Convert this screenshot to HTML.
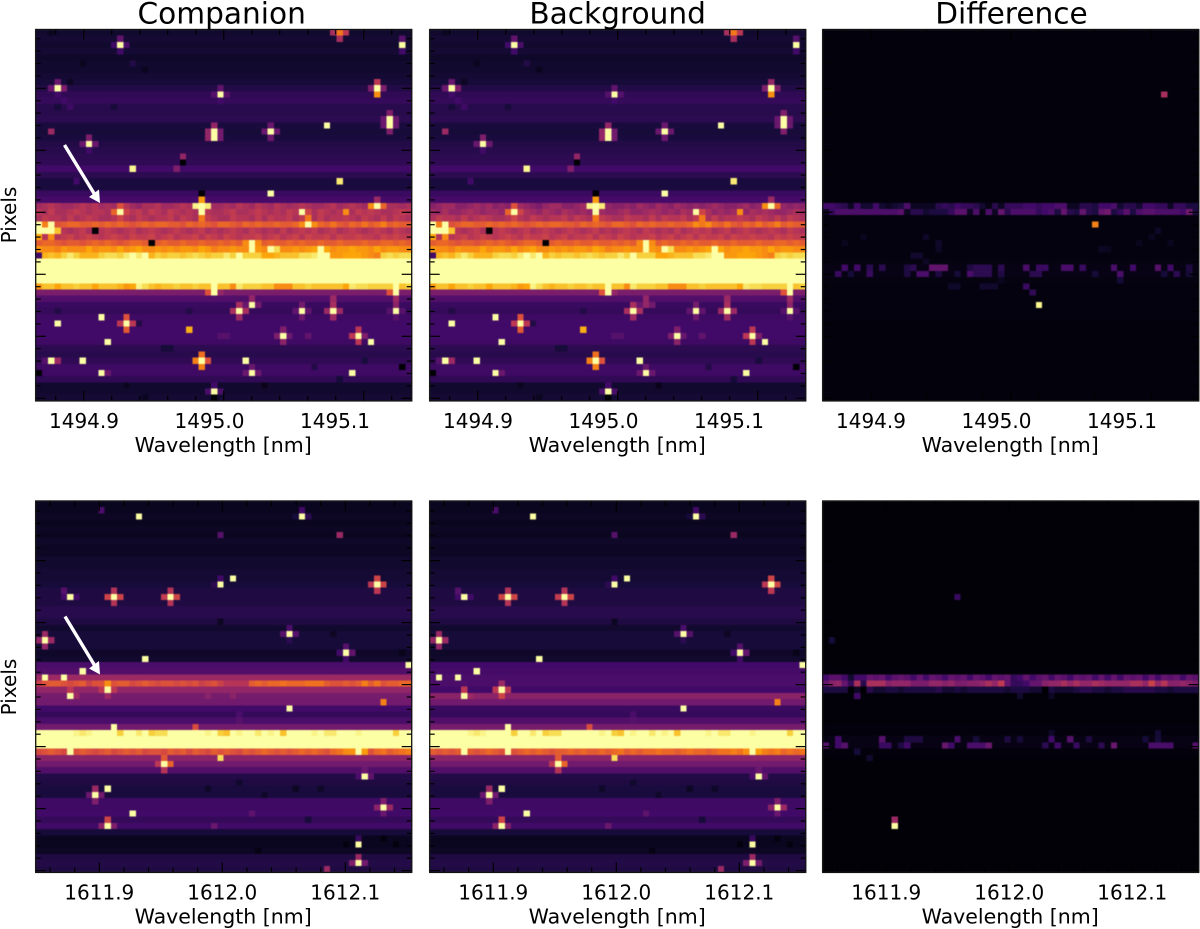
<!DOCTYPE html>
<html lang="en">
<head>
<meta charset="utf-8">
<title>Spectral detector frames</title>
<style>
html,body{margin:0;padding:0;background:#fff;}
svg{display:block;font-family:"DejaVu Sans","Liberation Sans",sans-serif;fill:#000;}
.cells{filter:blur(0.45px);}
</style>
</head>
<body>
<svg id="figure" xmlns="http://www.w3.org/2000/svg" width="1200" height="929" viewBox="0 0 1200 929">
  <rect x="0" y="0" width="1200" height="929" fill="#ffffff"/>
  <g id="panels"></g>
  <text x="221.7" y="23.5" font-size="29.6" text-anchor="middle">Companion</text>
  <text x="617.6" y="23.5" font-size="29.6" text-anchor="middle">Background</text>
  <text x="1011.5" y="23.5" font-size="29.6" text-anchor="middle">Difference</text>
  <text font-size="20" text-anchor="middle" transform="translate(16 215) rotate(-90)">Pixels</text>
  <text font-size="20" text-anchor="middle" transform="translate(16 687) rotate(-90)">Pixels</text>
  <g>
    <line x1="64.5" y1="145" x2="95" y2="195" stroke="#fff" stroke-width="3.4"/>
    <polygon points="100,203 89,197 99,189.5" fill="#fff"/>
  </g>
  <g>
    <line x1="65" y1="616.5" x2="95" y2="666" stroke="#fff" stroke-width="3.4"/>
    <polygon points="100,674.5 89,668.5 99,661" fill="#fff"/>
  </g>
</svg>
<script>
/* ---------- data: row levels (0-1 of the colour scale), per-cell band strings (base-36, 0-z), bright/dark pixels [col,row,value] ---------- */
const companionTopRows = [.08,.09,.08,.09,.07,.08,.08,.09,.1,.13,.16,.17,.14,.14,.15,.11,.1,.11,.13,.14,.15,.16,.2,.15,.11,.11,.18,.21,.44,.47,.46,.63,.47,.5,.62,.78,.9,1,1,1,1,.86,.34,.24,.18,.17,.19,.2,.2,.2,.19,.15,.14,.16,.19,.19,.16,.08,.08,.09];
const backgroundTopRows = [.08,.09,.08,.09,.07,.08,.08,.09,.1,.13,.16,.17,.14,.14,.15,.11,.1,.11,.13,.14,.15,.16,.2,.15,.11,.11,.18,.21,.4,.43,.46,.63,.47,.5,.62,.78,.9,1,1,1,1,.86,.34,.24,.18,.17,.19,.2,.2,.2,.19,.15,.14,.16,.19,.19,.16,.08,.08,.09];
const differenceTopRows = [.015,.015,.015,.015,.015,.015,.015,.015,.015,.015,.015,.015,.015,.015,.015,.015,.015,.015,.015,.015,.015,.015,.015,.015,.015,.015,.015,.015,.15,.2,.02,.02,.02,.02,.02,.02,.02,.025,.03,.03,.025,.02,.02,.02,.02,.02,.02,.015,.015,.015,.015,.015,.015,.015,.015,.015,.015,.015,.015,.015];

const companionBottomRows = [.05,.05,.06,.05,.06,.05,.07,.06,.06,.08,.08,.09,.09,.1,.12,.12,.12,.14,.14,.12,.08,.1,.1,.1,.07,.08,.22,.24,.42,.65,.4,.33,.32,.2,.17,.22,.32,1,1,1,.58,.38,.32,.24,.13,.12,.11,.11,.19,.19,.2,.17,.2,.1,.05,.05,.06,.12,.13,.12];
const backgroundBottomRows = [.05,.05,.06,.05,.06,.05,.07,.06,.06,.08,.08,.09,.09,.1,.12,.12,.12,.14,.14,.12,.08,.1,.1,.1,.07,.08,.2,.21,.22,.22,.2,.38,.32,.18,.17,.24,.33,1,1,1,.6,.38,.32,.24,.13,.12,.11,.11,.19,.19,.2,.17,.2,.1,.05,.05,.06,.12,.13,.12];
const differenceBottomRows = [.008,.008,.008,.008,.008,.008,.008,.008,.008,.008,.008,.008,.008,.008,.008,.008,.008,.008,.008,.008,.008,.008,.008,.008,.008,.008,.008,.01,.2,.38,.1,.01,.01,.01,.01,.01,.015,.015,.03,.03,.015,.01,.008,.008,.008,.008,.008,.008,.008,.008,.008,.008,.008,.008,.008,.008,.008,.008,.008,.008];

const companionTopBands = {
  28:"fghgffghghfgfghfegghffghgfhgffgfhgfhgfhgfghgffghfghgfgfhggfg",
  29:"hgigghihghhgighhigihgihghgihgghigghihghgihghgihghhgihihgghih",
  30:"gihhgighihgghihgihghhigihggihggihhgigihhigihgighhihgihgigihg",
  31:"zpzlmnnmmnmnmnmlmnmnnmmlnmnmlnnmlnmnmmnmmnqzqnmomlnmomnpmnmm",
  32:"zzzuhghighhihghighihghihghighghihgihghgighihighighihghihgihg",
  33:"shqhijhijihijihjiijhijhiijhjihjihiijhijhijhjiijhjiijiihjijii",
  34:"mnnmlmmlmnmnmlmnnmlmnmmnmmnmmnmnmqzqmnmmnmnmmnmmnmmmnmmnnmnm",
  35:"rqqprqqqsqrrqsqrsqqrqrqrrqsrpqqrqqzrqzwqqrqrszsqrrsrrqsqrrqq",
  36:"7tutvxvtttvwwvxzxztvuvvuvwvuvvxvzvvvsstuuuwwxzzrrsssrqpvwvww",
  41:"ruusuuvuusuuutrsywutuuvuuvuuzuuqxvvvuuqqquuvuuuuusxwwvvvvzuv"
};
const backgroundTopBands = {
  ...companionTopBands,
  28:"deffddefefdedefedceffddefedfeddedfedfedfededefeddefdefedededfd",
  29:"fegeefgfeffegefgfegfegfefegfeefgeefgfefegfefgefeffegfgfeefgf"
};
const differenceTopBands = {
  28:"776527337323482222565766531526667767788225547783553776626644",
  29:"26888888888892553444699281 82a588886784a54a54ab469489988887b4".replace(" ","")
};

const companionBottomBands = {
  29:"jlmmlklmjllplmmklmlkllklkljkljhhhhmnmnnonnnooomllmlmpmolmmnn",
  37:"zzzzzzyxyzzzzvzzxzvwwzzzzzzyzvuzyzzxzyzuzzzzyzxxzzzyzzzzzvzz",
  40:"klmlkmlmlklmklmlmkllkmlmkmlkmlmlkmlmnmlmlmnmnmlnoqlqmlnomnop"
};
const backgroundBottomBands = {
  37:"zzzzzzyxyzzzzvzzxzvwwzzzzzzyzvuzyzzxzyzuzzzzyzxxzzzyzzzzzvzz",
  40:"mlmlmlmlmnmlzlmnmnmlmmnmnmmnmnomnmnnonnmnonnmnoopoqzqpopnono"
};
const differenceBottomBands = {
  28:"7997377a9a79a97a7a97a9a7a97a9a67a79a7a97a9a7a7a7a9a7a7a9a7a9",
  29:"adea6g5gggdeeeccceedeccddegeia667aadeegegeegfeeeeggejehddedc",
  30:"444403053344344444533434444443444330433345544344555554434444"
};

const companionTopSpots = [
  [7,5,.05],[2,0,.05],[17,6,.05],[5,8,.06],[3,12,.1],[12,12,.1],[15,5,.13],[8,17,.18],[6,24,.2],[4,11,.2],[5,12,.19],
  [3,45,.13],[24,45,.13],[16,47,.13],[20,51,.1],[21,51,.1],[17,59,.05],[14,57,.05],[36,57,.04],[48,56,.1],[52,53,.11],[44,54,.13],[43,49,.28],[29,49,.25],[30,49,.25],
  [13,2,1],[12,2,.2],[14,2,.22],[13,1,.28],[13,3,.2],
  [3,9,1],[4,9,.35],[2,9,.3],[3,8,.3],[3,10,.2],
  [29,10,1],[29,9,.28],[29,11,.2],[28,10,.25],[30,10,.25],
  [48,0,.7],[48,1,.45],[47,0,.45],[49,0,.5],
  [58,2,1],[58,1,.25],[58,3,.2],
  [54,9,1],[54,8,.5],[54,10,.75],[53,9,.35],[55,9,.35],
  [2,16,.42],
  [8,18,1],[7,18,.3],[9,18,.3],[8,17,.35],[8,19,.2],
  [15,22,.98],
  [28,16,1],[28,17,1],[27,16,.4],[27,17,.4],[29,16,.32],[29,17,.32],[28,15,.4],
  [37,16,1],[36,16,.3],[38,16,.3],[37,15,.3],[37,17,.3],
  [46,15,1],
  [56,13,.35],[56,14,1],[56,15,1],[56,16,.35],[55,14,.3],[57,14,.3],[55,15,.3],[57,15,.3],
  [23,21,0],[23,20,.4],[22,22,.35],
  [48,24,.95],[37,26,1],
  [26,26,0],[26,27,.78],[26,28,1],[25,28,.97],[27,28,.95],[26,29,1],[26,30,.7],
  [13,29,1],[12,29,.65],[14,29,.55],[13,28,.6],[13,30,.55],
  [9,32,0],[18,34,0],
  [42,29,1],[43,29,.55],[43,30,.7],
  [49,29,.75],
  [54,28,1],[53,28,.75],[55,28,.65],[54,27,.42],
  [28,42,1],[27,42,.6],[29,42,.4],[57,42,1],[56,42,.6],[57,43,.42],
  [34,44,1],[34,43,.4],[33,44,.3],[35,44,.32],
  [32,45,1],[31,45,.45],[33,45,.45],[32,44,.45],[32,46,.42],
  [42,45,1],[42,44,.33],[42,46,.3],[41,45,.28],[43,45,.28],
  [47,45,1],[46,45,.42],[48,45,.42],[47,44,.45],[47,46,.42],[47,43,.42],
  [57,45,1],[57,44,.38],[56,45,.25],[58,45,.25],[57,46,.25],
  [39,49,1],[38,49,.35],[40,49,.3],[39,48,.35],[39,50,.38],
  [51,49,1],[50,49,.5],[52,49,.35],[51,48,.5],[51,50,.5],
  [53,50,1],[33,53,1],[34,54,.3],[34,55,1],[33,55,.3],[35,55,.3],[50,55,1],
  [28,58,1],[27,58,.22],[29,58,.22],[28,57,.2],[28,59,0],
  [26,53,1],[25,53,.72],[27,53,.6],[26,52,.68],[26,54,.72],
  [3,47,1],[14,47,1],[13,47,.5],[15,47,.5],[14,46,.6],[14,48,.62],
  [10,46,1],[24,48,.82],[11,50,1],
  [2,53,1],[3,53,.42],[1,53,.25],[7,53,1],[10,55,1],[11,55,.3],
  [0,55,0],[58,54,0]
];
const backgroundTopSpots = [...companionTopSpots, [34,44,.4],[54,8,.4],[43,31,.7]];
const differenceTopSpots = [
  [54,10,.45],[43,31,.72],[34,44,.98],
  [3,38,.2],[5,38,.2],[7,38,.15],[9,38,.15],[13,38,.12],[14,38,.15],[17,38,.28],[18,38,.28],[19,38,.28],[23,38,.12],[24,38,.15],[25,38,.15],[26,38,.15],[28,38,.15],[32,38,.22],[34,38,.18],[35,38,.18],[38,38,.22],[39,38,.22],[41,38,.18],[46,38,.22],[49,38,.2],[53,38,.25],[55,38,.2],[58,38,.12],
  [2,39,.18],[4,39,.1],[7,39,.18],[13,39,.12],[15,39,.22],[16,39,.22],[18,39,.12],[21,39,.1],[23,39,.22],[24,39,.15],[25,39,.15],[26,39,.15],[28,39,.12],[33,39,.15],[34,39,.15],[43,39,.1],[47,39,.22],[54,39,.1],[56,39,.15],[58,39,.1],
  [18,34,.07],[18,35,.06],[14,36,.08],[15,36,.08],[16,37,.06],[28,40,.05],[32,41,.18],[33,42,.16],[25,41,.08],[26,41,.08],[27,41,.08],[20,41,.07],[21,41,.07],[47,40,.1],[53,32,.07],[52,33,.05],[50,34,.05],[6,33,.05],[3,34,.05],[16,33,.07],[45,35,.05],[44,35,.06],[55,34,.05]
];

const companionBottomSpots = [
  [27,46,.07],[41,46,.06],[45,46,.07],[43,51,.1],[36,47,.07],[32,45,.08],[55,54,.02],[49,55,.02],[57,55,.02],[35,56,.03],[29,19,.06],[47,21,.06],[58,24,.04],
  [34,50,.27],[28,52,.3],[31,31,.38],[27,31,.38],[32,34,.22],[32,35,.25],
  [16,2,1],[10,1,.22],[5,15,1],[4,14,.25],[4,15,.2],[6,15,.2],
  [12,15,1],[11,15,.55],[13,15,.55],[12,14,.48],[12,16,.48],
  [21,15,1],[22,15,.55],[20,15,.52],[21,14,.48],[21,16,.48],
  [29,5,.25],[42,2,1],[42,1,.2],[43,2,.15],[41,2,.1],[48,5,.42],
  [31,12,1],[29,13,1],[28,13,.15],[29,12,.2],
  [54,13,1],[53,13,.5],[55,13,.55],[54,12,.55],[54,14,.5],
  [1,22,1],[1,21,.42],[1,23,.4],[2,22,.42],[0,22,.4],
  [17,25,1],[7,27,1],[1,28,1],[4,28,1],
  [11,29,.75],[11,30,1],[10,30,.5],[12,30,.5],[11,31,.42],
  [5,30,.5],[5,31,1],[6,31,.42],[5,40,1],
  [12,36,1],[25,36,.58],
  [20,41,.62],[20,42,1],[19,42,.5],[21,42,.65],[20,43,.48],[29,41,.92],
  [11,46,1],[9,47,1],[9,46,.42],[9,48,.35],[8,47,.3],[10,47,.32],
  [15,50,1],[11,52,1],[11,51,.55],[10,52,.38],[12,52,.35],
  [40,21,1],[39,21,.25],[41,21,.25],[40,20,.22],[40,22,.15],
  [49,24,1],[48,24,.2],[50,24,.28],[49,23,.25],[49,25,.2],
  [59,26,1],[40,33,1],[55,32,.72],
  [52,44,1],[51,44,.22],[53,44,.28],[52,43,.3],
  [55,49,1],[54,49,.38],[56,49,.42],[55,48,.35],[55,50,.3],
  [51,55,1],[51,54,.18],[51,58,1],[51,57,.42],[50,58,.35],[52,58,.32],[46,59,.42],
  [51,40,1],[50,40,.75],[52,40,.78]
];
const backgroundBottomSpots = [...companionBottomSpots, [11,29,.42],[11,31,.55],[5,29,.24],[28,38,1]];
const differenceBottomSpots = [
  [11,52,1],[11,51,.42],[21,15,.18],[1,22,.1],[5,31,.2],[5,30,.06],[31,31,.08],[36,31,.06],
  [2,38,.2],[9,38,.25],[13,38,.12],[14,38,.12],[15,38,.12],[21,38,.22],[24,38,.1],[29,38,.12],[31,38,.1],[36,38,.2],[39,38,.25],[42,38,.12],[51,38,.1],[53,38,.1],
  [0,39,.25],[2,39,.2],[3,39,.25],[9,39,.18],[10,39,.18],[12,39,.12],[13,39,.2],[19,39,.3],[20,39,.2],[23,39,.22],[24,39,.22],[25,39,.22],[26,39,.3],[35,39,.15],[37,39,.2],[40,39,.18],[44,39,.15],[46,39,.3],[52,39,.22],[53,39,.22],[54,39,.22],[55,39,.22],[59,39,.25],
  [5,40,.1],[7,41,.08],[53,37,.09],[36,37,.07]
];

const tickLabelsTop = [1494.9, 1495.0, 1495.1];
const tickLabelsBottom = [1611.9, 1612.0, 1612.1];
const xAxisTitle = "Wavelength [nm]";

/* ---------- layout ---------- */
const GRID = 60;
const PANEL_W = 376;
const PANEL_H = 371.4;
const columnLefts = [35.7, 429.7, 822.7];
const rowTops = [29.5, 501];
const TICK_LABEL_OFFSET = 27;
const TITLE_OFFSET = 51;

const INFERNO = ["#000004","#160b39","#420a68","#6a176e","#932667","#bc3754","#dd513a","#f37819","#fca50a","#f6d746","#fcffa4"];
function hexToRgb(h){return [parseInt(h.slice(1,3),16),parseInt(h.slice(3,5),16),parseInt(h.slice(5,7),16)];}
const INFERNO_RGB = INFERNO.map(hexToRgb);
function colorScale(v){
  const t = Math.max(0, Math.min(1, v)) * (INFERNO_RGB.length - 1);
  const i = Math.min(INFERNO_RGB.length - 2, Math.floor(t));
  const f = t - i, a = INFERNO_RGB[i], b = INFERNO_RGB[i + 1];
  return "rgb(" + [0,1,2].map(k => Math.round(a[k] + (b[k] - a[k]) * f)).join(",") + ")";
}

const panelSpecs = [
  {id:"companion-top", col:0, line:0, rows:companionTopRows, bands:companionTopBands, spots:companionTopSpots},
  {id:"background-top", col:1, line:0, rows:backgroundTopRows, bands:backgroundTopBands, spots:backgroundTopSpots},
  {id:"difference-top", col:2, line:0, rows:differenceTopRows, bands:differenceTopBands, spots:differenceTopSpots},
  {id:"companion-bottom", col:0, line:1, rows:companionBottomRows, bands:companionBottomBands, spots:companionBottomSpots},
  {id:"background-bottom", col:1, line:1, rows:backgroundBottomRows, bands:backgroundBottomBands, spots:backgroundBottomSpots},
  {id:"difference-bottom", col:2, line:1, rows:differenceBottomRows, bands:differenceBottomBands, spots:differenceBottomSpots}
];

/* wavelength axis per line of panels: anchor tick position and px per nm */
const waveAxes = [
  {labels:tickLabelsTop, anchorPx:48.3, pxPerNm:1255, tickStart:20, tickStep:28, tickCount:13, majorEvery:5, majorPhase:1},
  {labels:tickLabelsBottom, anchorPx:63.6, pxPerNm:1230, tickStart:14.4, tickStep:24.6, tickCount:15, majorEvery:5, majorPhase:2}
];
const yMajorOffsets = [58.8, 59.6];

const svgNS = "http://www.w3.org/2000/svg";
function node(tag, parent, attrs){
  const el = document.createElementNS(svgNS, tag);
  for (const k in attrs) el.setAttribute(k, attrs[k]);
  parent.appendChild(el);
  return el;
}
function xCell(left, col){ return left + col * PANEL_W / GRID; }
function yCell(top, row){ return top + row * PANEL_H / GRID; }
function cellValue(spec){
  const grid = [];
  for (let r = 0; r < GRID; r++){
    const band = spec.bands[r];
    const line = [];
    for (let c = 0; c < GRID; c++){
      const ch = band ? band[c] : undefined;
      line.push(ch !== undefined ? parseInt(ch, 36) / 35 : spec.rows[r]);
    }
    grid.push(line);
  }
  spec.spots.forEach(function(s){ grid[s[1]][s[0]] = s[2]; });
  return grid;
}

const root = document.getElementById("panels");
panelSpecs.forEach(function(spec){
  const left = columnLefts[spec.col], top = rowTops[spec.line];
  const axis = waveAxes[spec.line];
  const panel = node("g", root, {});
  
  

  const cells = node("g", panel, {"class":"cells", "shape-rendering":"crispEdges"});
  
  
  const grid = cellValue(spec);
  for (let r = 0; r < GRID; r++){
    for (let c = 0; c < GRID; c++){
      const x0 = xCell(left, c), y0 = yCell(top, r);
      const rect = node("rect", cells, {
        x:x0.toFixed(2), y:y0.toFixed(2),
        width:(xCell(left, c + 1) - x0 + 0.3).toFixed(2),
        height:(yCell(top, r + 1) - y0 + 0.3).toFixed(2),
        fill:colorScale(grid[r][c])
      });
      
      
    }
  }

  const ticks = node("g", panel, {stroke:"#000", "stroke-width":"1.2"});
  
  
  const right = left + PANEL_W, bottom = top + PANEL_H;
  /* y ticks: 12.4 px minor, every fifth is major */
  const major0 = top + yMajorOffsets[spec.line];
  for (let k = -4; k < 27; k++){
    const y = major0 + k * 12.4;
    if (y <= top + 2 || y >= bottom - 1) continue;
    const len = (k % 5 === 0) ? 10 : 5;
    const a = node("line", ticks, {x1:left, y1:y, x2:left + len, y2:y});
    
    
    const b = node("line", ticks, {x1:right, y1:y, x2:right - len, y2:y});
    
    
  }
  for (let k = 0; k < axis.tickCount; k++){
    const x = left + axis.tickStart + k * axis.tickStep;
    if (x >= right - 1) continue;
    const len = (k % axis.majorEvery === axis.majorPhase) ? 10 : 5;
    const a = node("line", ticks, {x1:x, y1:bottom, x2:x, y2:bottom - len});
    
    
    const b = node("line", ticks, {x1:x, y1:top, x2:x, y2:top + len});
    
    
  }

  const frame = node("rect", panel, {x:left, y:top, width:PANEL_W, height:PANEL_H, fill:"none", stroke:"#111", "stroke-width":"1.3"});
  
  

  axis.labels.forEach(function(v){
    const x = left + axis.anchorPx + (v - axis.labels[0]) * axis.pxPerNm;
    const t = node("text", panel, {x:x, y:bottom + TICK_LABEL_OFFSET, "font-size":"20", "text-anchor":"middle"});
    
    
    t.textContent = v.toFixed(1);
  });
  const xt = node("text", panel, {x:left + PANEL_W / 2 - 0.5, y:bottom + TITLE_OFFSET, "font-size":"20.5", "text-anchor":"middle"});
  
  
  xt.textContent = xAxisTitle;
});
</script>
</body>
</html>
